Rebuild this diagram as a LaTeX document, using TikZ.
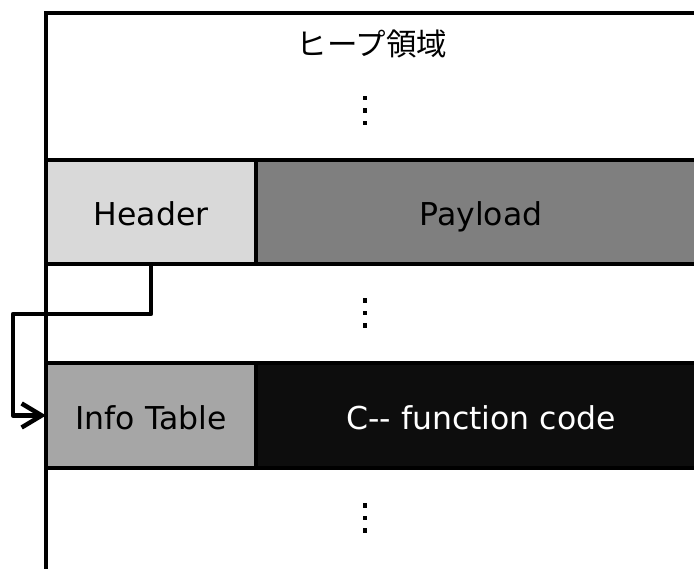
\documentclass[tikz,border=0pt]{standalone}
\usepackage{fontspec}
\setmainfont{DejaVu Sans}
\newfontfamily\cjkfont{Noto Sans CJK JP}
\usetikzlibrary{arrows.meta}
\definecolor{hdrgray}{HTML}{D9D9D9}
\definecolor{paygray}{HTML}{7F7F7F}
\definecolor{infogray}{HTML}{A6A6A6}
\definecolor{codeblack}{HTML}{0D0D0D}
\tikzset{
  cell/.style={draw=black, line width=3.5pt, rectangle, inner sep=0pt, outer sep=0pt,
    anchor=north west, font=\fontsize{31.5}{36}\selectfont, text height=28pt, text depth=0pt},
  frameline/.style={draw=black, line width=3.5pt},
  conn/.style={draw=black, line width=4.5pt, line join=round,
    -{Straight Barb[length=20pt,width=24pt,line width=4.5pt]}},
  dotsq/.style={fill=black, rectangle, inner sep=0pt, minimum size=4.5pt},
}
\begin{document}
\begin{tikzpicture}[x=1pt,y=-1pt]
\useasboundingbox (0,0) rectangle (694,569);
\clip (0,0) rectangle (694,569);
\fill[white] (0,0) rectangle (694,569);
% cells
\node[cell, fill=hdrgray, minimum width=210pt, minimum height=104pt] (hdr) at (46,160) {Header};
\node[cell, fill=paygray, minimum width=450pt, minimum height=104pt] (pay) at (256,160) {Payload};
\node[cell, fill=infogray, minimum width=210pt, minimum height=105pt] (info) at (46,363) {Info Table};
\node[cell, fill=codeblack, text=white, minimum width=450pt, minimum height=105pt] (code) at (256,363) {C-{}- function code};
% frame (left and top)
\coordinate (fbl) at (46,600);
\coordinate (ftl) at (46,13);
\coordinate (ftr) at (710,13);
\draw[frameline] (fbl) -- (ftl) -- (ftr);
% title
\node[font=\cjkfont\fontsize{30.5}{36}\selectfont] (title) at (372,44) {ヒープ領域};
% vertical dots
\foreach \n/\y in {a/110.5, b/313, c/518}{
  \node[dotsq] (\n1) at (365,\y-12.5) {};
  \node[dotsq] (\n2) at (365,\y) {};
  \node[dotsq] (\n3) at (365,\y+12.5) {};
}
% connector
\coordinate (bend) at (13,314);
\draw[conn] (hdr.south) |- (bend) |- (info.west);
\end{tikzpicture}
\end{document}
